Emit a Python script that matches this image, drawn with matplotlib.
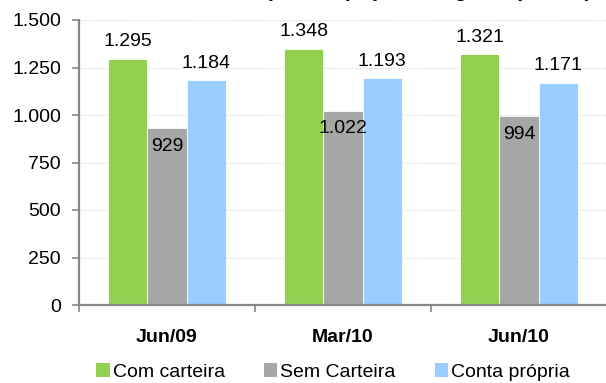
import numpy as np
import matplotlib.pyplot as plt
from matplotlib.ticker import FuncFormatter, MultipleLocator
from matplotlib.patches import Patch

plt.rcParams['font.family'] = ['Liberation Sans', 'DejaVu Sans']

# Rendimento por posição na ocupação
periodos = ['Jun/09', 'Mar/10', 'Jun/10']
series = ['Com carteira', 'Sem Carteira', 'Conta própria']
com_carteira = [1295, 1348, 1321]
sem_carteira = [929, 1022, 994]
conta_propria = [1184, 1193, 1171]
cores = ['#92D050', '#A6A6A6', '#99CCFF']

valores = [com_carteira, sem_carteira, conta_propria]


def fmt_br(v, pos=None):
    # separador de milhar com ponto
    return f'{int(v):,}'.replace(',', '.')


fig = plt.figure(figsize=(6.06, 3.83), dpi=100)
ax = fig.add_axes([79 / 606, 1 - 305 / 383, 528 / 606, 285 / 383])

x = np.arange(len(periodos))
largura = 0.222
for i, (nome, vals, cor) in enumerate(zip(series, valores, cores)):
    barras = ax.bar(x + (i - 1) * largura, vals, largura, color=cor,
                    edgecolor='white', linewidth=0.6, label=nome, zorder=2)
    for b, v in zip(barras, vals):
        # o rótulo da série do meio fica dentro da barra
        dy = -18 if i == 1 else 17
        ax.annotate(fmt_br(v), (b.get_x() + b.get_width() / 2, v),
                    xytext=(0, dy), textcoords='offset pixels',
                    ha='center', va='center', fontsize=14, color='black',
                    zorder=3)

ax.set_xlim(-0.5, 2.5)
ax.set_ylim(0, 1500)
ax.yaxis.set_major_locator(MultipleLocator(250))
ax.yaxis.set_major_formatter(FuncFormatter(fmt_br))
ax.grid(axis='y', color='#D0D0D0', linestyle=(0, (1, 1.5)), linewidth=0.8)
ax.set_axisbelow(True)

# marcas nas divisões entre períodos, nomes no centro
ax.set_xticks([-0.5, 0.5, 1.5, 2.5])
ax.set_xticklabels([])
ax.set_xticks(x, minor=True)
ax.set_xticklabels(periodos, minor=True, fontweight='bold', fontsize=14)
ax.tick_params(axis='x', which='minor', length=0, pad=17)
ax.tick_params(axis='x', which='major', length=5, width=1.2, color='#868686')
ax.tick_params(axis='y', length=5, width=1.2, color='#868686', pad=8,
               labelsize=14)

for s in ['top', 'right']:
    ax.spines[s].set_visible(False)
for s in ['left', 'bottom']:
    ax.spines[s].set_color('#868686')
    ax.spines[s].set_linewidth(1.6)

handles = [Patch(facecolor=c, edgecolor='none') for c in cores]
fig.legend(handles, series, loc='center', bbox_to_anchor=(333 / 606, 1 - 372 / 383),
           ncol=3, frameon=False, fontsize=14, handlelength=0.7, handleheight=0.7,
           handletextpad=0.15, columnspacing=2.0, borderpad=0)

# título acima da área visível, só as descendentes aparecem
fig.text(592 / 606, 1 + 2.5 / 383, 'Rendimento médio por ocupação, 6 regiões (em R$)',
         ha='right', va='baseline', fontsize=15, fontweight='bold')

fig.savefig('out.png', dpi=100)
